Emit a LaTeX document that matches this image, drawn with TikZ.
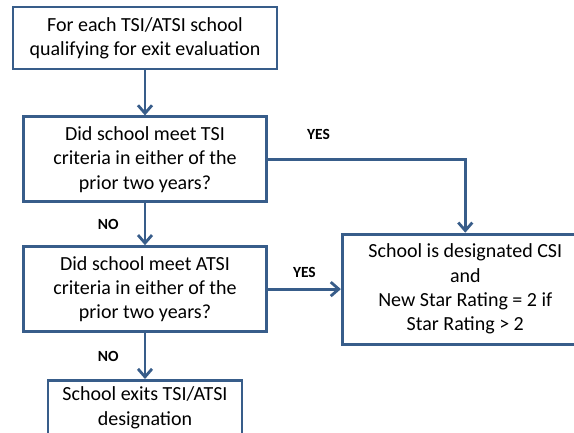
\documentclass[tikz,border=0pt]{standalone}
\usepackage{fontspec}
\setmainfont{Carlito}
\usetikzlibrary{positioning,arrows.meta}
\definecolor{boxblue}{RGB}{56,93,138}

\begin{document}
\begin{tikzpicture}[x=1pt,y=-1pt,line width=2.8pt,
                >={Straight Barb[length=8pt,width=14pt]},
                main node/.style={rectangle,draw=boxblue,text=black,align=center,
                    font=\fontsize{20}{24.4}\selectfont},
                answer/.style={text=black,inner sep=0pt,
                    font=\bfseries\fontsize{15.5}{18}\selectfont}]
	\useasboundingbox (0,0) rectangle (574,432);
	\clip (0,0) rectangle (574,432);

	\node[main node,minimum width=264pt,minimum height=62pt] (1) at (145,38)
		{For each TSI/ATSI school\\qualifying for exit evaluation};
	\node[main node,minimum width=243pt,minimum height=85pt] (2) [below=45pt of 1]
		{Did school meet TSI\\criteria in either of the\\prior two years?};
	\node[main node,minimum width=243pt,minimum height=85pt] (3) [below=42pt of 2]
		{Did school meet ATSI\\criteria in either of the\\prior two years?};
	\node[main node,minimum width=194pt,minimum height=55pt] (4) [below=46pt of 3]
		{School exits TSI/ATSI\\designation};
	\node[main node,minimum width=246pt,minimum height=110pt] (5) [right=73pt of 3]
		{School is designated CSI\\and\\New Star Rating = 2 if\\Star Rating > 2};

	\draw[->,boxblue]
	(1) edge (2)
	(2) edge node[answer,left=25pt] {NO} (3)
	(3) edge node[answer,above=10pt] {YES} (5)
	(3) edge node[answer,left=25pt] {NO} (4);
	\draw[->,boxblue] (2.east) -| node[answer,pos=0.128,above=18pt] {YES} (5.north);

\end{tikzpicture}
\end{document}
